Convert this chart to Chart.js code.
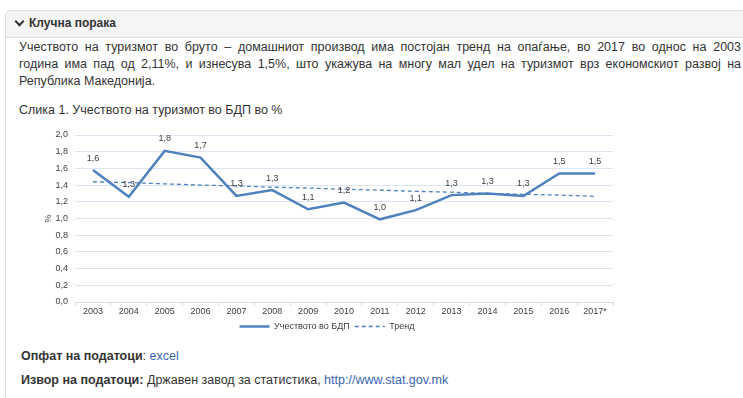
<!DOCTYPE html>
<html>
<head>
<meta charset="utf-8">
<script src="https://cdn.jsdelivr.net/npm/chart.js@4.4.1/dist/chart.umd.min.js"></script>
<style>
  body { margin: 0; background: #fff; font-family: "Liberation Sans", Arial, sans-serif; color: #333; width: 743px; height: 398px; overflow: hidden; position: relative; }
  .hdr { position: absolute; left: 5px; top: 10px; width: 780px; height: 26px; background: #f5f5f5; border: 1px solid #ddd; border-radius: 5px 0 0 0; }
  .hdr .chev { position: absolute; left: 10px; top: 7px; width: 5px; height: 5px; border-right: 2px solid #333; border-bottom: 2px solid #333; transform: rotate(45deg); }
  .hdr .ttl { position: absolute; left: 23px; top: 5px; font-size: 12px; font-weight: bold; color: #333; }
  .side { position: absolute; left: 5px; top: 37px; height: 400px; border-left: 1px solid #ddd; }
  .ln { position: absolute; left: 19px; width: 722px; font-size: 12.5px; white-space: nowrap; }
  .jus { text-align: justify; text-align-last: justify; white-space: normal; }
  .cap { position: absolute; left: 19px; top: 103px; font-size: 12.5px; }
  #wrap { position: absolute; left: 15px; top: 120px; width: 620px; height: 221px; }
  .foot { position: absolute; left: 21px; font-size: 12.5px; }
  .foot b { color: #333; }
  .foot a { color: #3a64ad; text-decoration: none; }
</style>
</head>
<body>
<div class="hdr"><span class="chev"></span><span class="ttl">Клучна порака</span></div>
<div class="side"></div>
<div class="ln jus" style="top:40px">Учеството на туризмот во бруто – домашниот производ има постојан тренд на опаѓање, во 2017 во однос на 2003</div>
<div class="ln jus" style="top:57px">година има пад од 2,11%, и изнесува 1,5%, што укажува на многу мал удел на туризмот врз економскиот развој на</div>
<div class="ln" style="top:74px">Република Македонија.</div>
<div class="cap">Слика 1. Учеството на туризмот во БДП во %</div>
<div id="wrap"><canvas id="chart"></canvas></div>
<div class="foot" style="top:349px"><b>Опфат на податоци</b>: <a href="#">excel</a></div>
<div class="foot" style="top:373px"><b>Извор на податоци:</b> Државен завод за статистика, <a href="#">http://www.stat.gov.mk</a></div>
<script>
const years = ['2003', '2004', '2005', '2006', '2007', '2008', '2009', '2010', '2011', '2012', '2013', '2014', '2015', '2016', '2017*'];
const udel = [1.58, 1.26, 1.81, 1.73, 1.27, 1.34, 1.11, 1.19, 0.99, 1.10, 1.28, 1.30, 1.27, 1.54, 1.54];
const trend = [1.44, 1.43, 1.415, 1.40, 1.39, 1.375, 1.365, 1.35, 1.34, 1.325, 1.315, 1.30, 1.29, 1.28, 1.265];

const blue = '#4f81bd';
const fnt = '"Liberation Sans", Arial, sans-serif';
const fmt = v => v.toFixed(1).replace('.', ',');

// natpisi nad linijata
const labelsPlugin = {
    id: 'vrednosti',
    afterDatasetsDraw(chart) {
        const ctx = chart.ctx;
        const meta = chart.getDatasetMeta(0);
        ctx.save();
        ctx.font = '9px ' + fnt;
        ctx.fillStyle = '#404040';
        ctx.textAlign = 'center';
        ctx.textBaseline = 'middle';
        meta.data.forEach((pt, i) => {
            ctx.fillText(fmt(udel[i]), pt.x, pt.y - 12);
        });
        ctx.restore();
    }
};

new Chart(document.getElementById('chart').getContext('2d'), {
    type: 'line',
    data: {
        labels: years,
        datasets: [
            { label: 'Учеството во БДП', data: udel, borderColor: blue, backgroundColor: blue, borderWidth: 2.5, pointRadius: 0, tension: 0 },
            { label: 'Тренд', data: trend, borderColor: blue, backgroundColor: blue, borderWidth: 1.3, borderDash: [4, 3], pointRadius: 0, tension: 0 }
        ]
    },
    options: {
        responsive: true,
        maintainAspectRatio: false,
        animation: false,
        layout: { padding: { top: 15, right: 22, left: 26, bottom: 0 } },
        plugins: {
            tooltip: { enabled: false },
            legend: {
                position: 'bottom',
                labels: {
                    usePointStyle: true,
                    pointStyle: 'line',
                    pointStyleWidth: 30,
                    boxHeight: 8,
                    padding: 5,
                    color: '#404040',
                    font: { size: 9, family: fnt },
                    generateLabels(chart) {
                        return chart.data.datasets.map((ds, i) => ({
                            text: ds.label,
                            datasetIndex: i,
                            fillStyle: ds.borderColor,
                            strokeStyle: ds.borderColor,
                            lineWidth: i === 0 ? 2.5 : 1.5,
                            lineDash: ds.borderDash || [],
                            pointStyle: 'line',
                            fontColor: '#404040',
                            hidden: false
                        }));
                    }
                }
            }
        },
        scales: {
            x: {
                offset: true,
                grid: { offset: true, drawOnChartArea: false, drawTicks: true, tickLength: 4, color: '#d9d9d9' },
                border: { display: true, color: '#d9d9d9' },
                ticks: { color: '#404040', padding: 0, maxRotation: 0, autoSkip: false, font: { size: 9, family: fnt } },
                afterFit(scale) { scale.height = 15; }
            },
            y: {
                min: 0,
                max: 2,
                ticks: { stepSize: 0.2, color: '#404040', padding: 7, callback: v => fmt(v), font: { size: 9, family: fnt } },
                grid: { color: '#dce6f2', drawTicks: false },
                border: { display: false },
                title: { display: true, text: '%', color: '#404040', padding: 2, font: { size: 9, family: fnt } },
                afterFit(scale) { scale.width = 34; }
            }
        }
    },
    plugins: [labelsPlugin]
});
</script>
</body>
</html>
